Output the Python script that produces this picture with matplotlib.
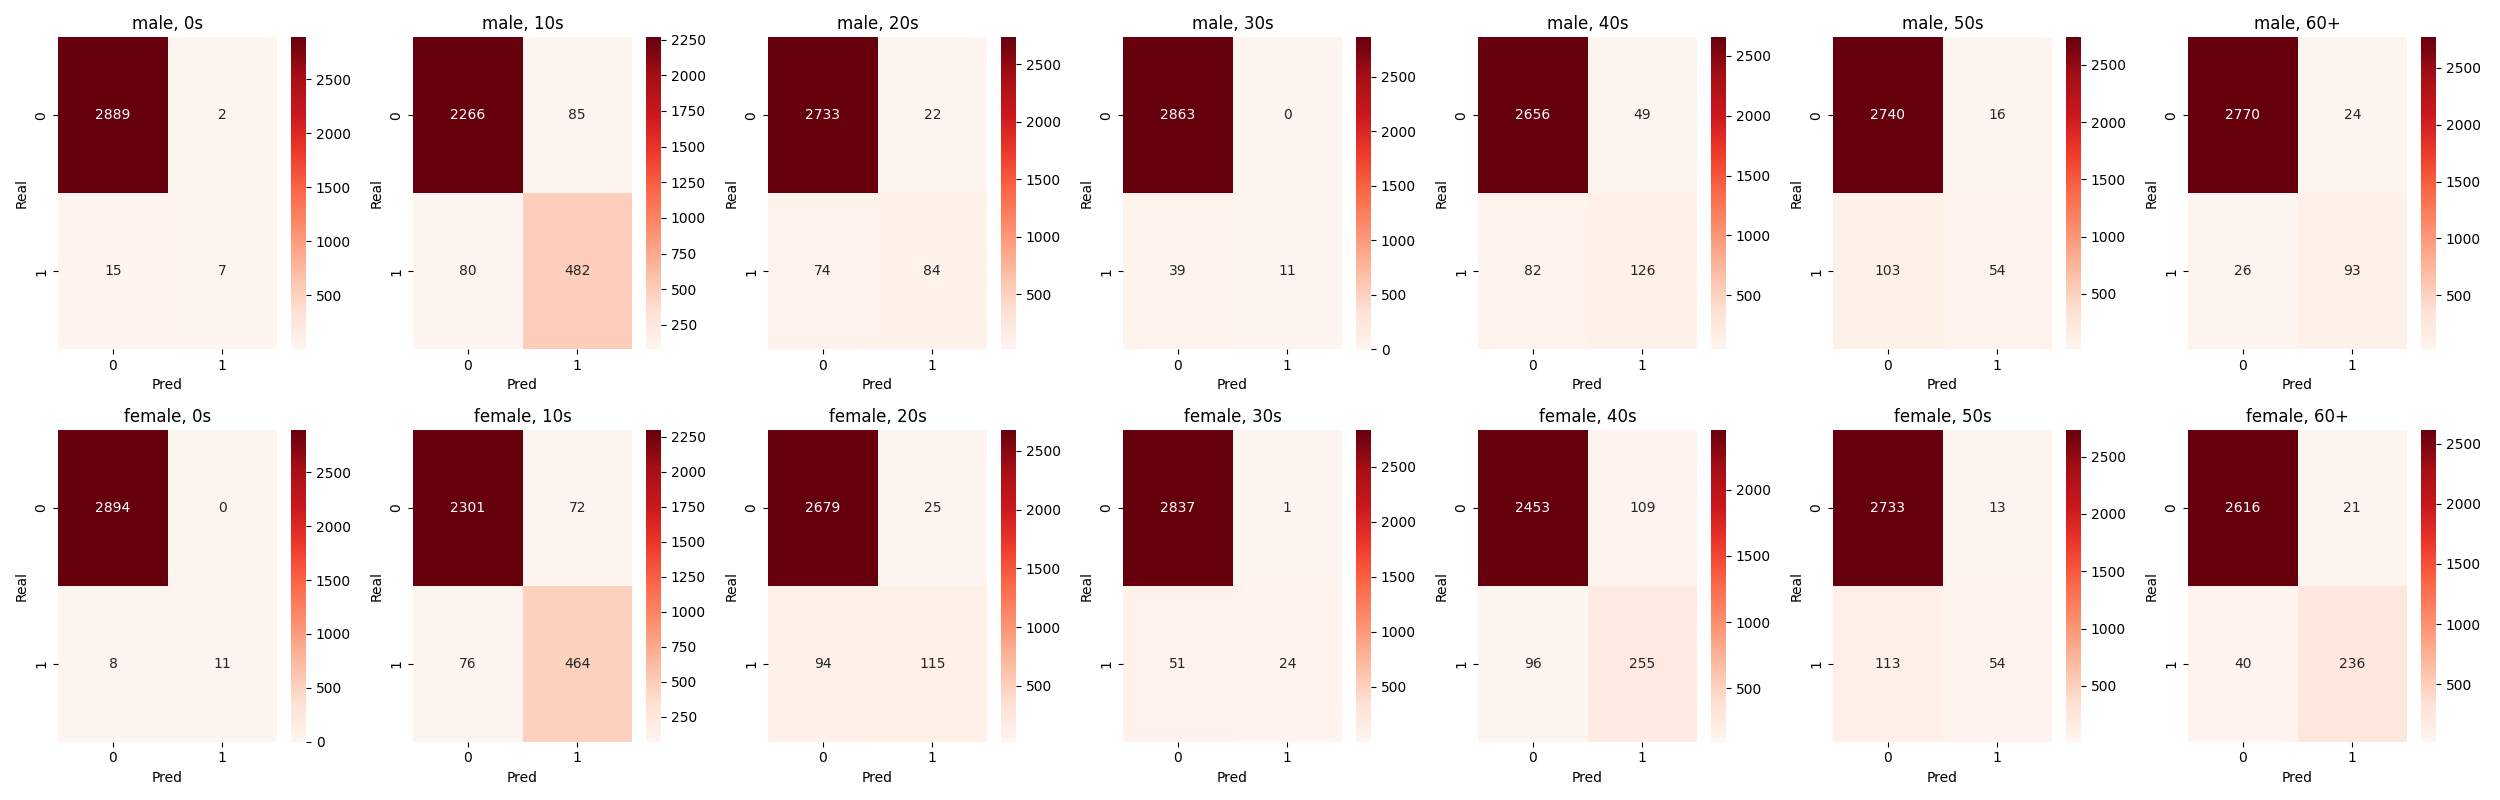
import numpy as np
import matplotlib
matplotlib.use("Agg")
import matplotlib.pyplot as plt
import seaborn as sns

genders = ["male", "female"]
ages = ["0s", "10s", "20s", "30s", "40s", "50s", "60+"]

# confusion matrices [[TN, FP], [FN, TP]] per age group
male_cm = [
    [[2889, 2], [15, 7]],
    [[2266, 85], [80, 482]],
    [[2733, 22], [74, 84]],
    [[2863, 0], [39, 11]],
    [[2656, 49], [82, 126]],
    [[2740, 16], [103, 54]],
    [[2770, 24], [26, 93]],
]
female_cm = [
    [[2894, 0], [8, 11]],
    [[2301, 72], [76, 464]],
    [[2679, 25], [94, 115]],
    [[2837, 1], [51, 24]],
    [[2453, 109], [96, 255]],
    [[2733, 13], [113, 54]],
    [[2616, 21], [40, 236]],
]

all_cm = {"male": male_cm, "female": female_cm}

fig, axes = plt.subplots(2, 7, figsize=(25, 8))

for r, g in enumerate(genders):
    for c, a in enumerate(ages):
        ax = axes[r, c]
        cm = np.array(all_cm[g][c])
        sns.heatmap(cm, annot=True, fmt="d", cmap="Reds", ax=ax)
        ax.set_title(f"{g}, {a}")
        ax.set_xlabel("Pred")
        ax.set_ylabel("Real")

plt.tight_layout()
plt.savefig("out.png", dpi=100)
